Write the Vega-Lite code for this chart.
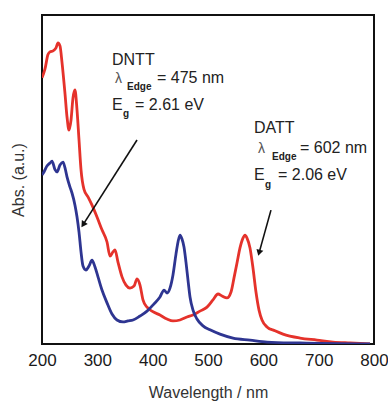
{
  "$schema": "https://vega.github.io/schema/vega-lite/v6.json",
  "width": 332,
  "height": 329,
  "autosize": "none",
  "padding": {"left": 42, "top": 15, "right": 14, "bottom": 57},
  "config": {
    "font": "Liberation Sans",
    "view": {"stroke": "#111111", "strokeWidth": 2}
  },
  "datasets": {
    "spectra": [
      {"compound": "DATT", "wl": 200, "abs": 0.809},
      {"compound": "DATT", "wl": 205.4, "abs": 0.836},
      {"compound": "DATT", "wl": 210.8, "abs": 0.880},
      {"compound": "DATT", "wl": 214.5, "abs": 0.888},
      {"compound": "DATT", "wl": 219.9, "abs": 0.891},
      {"compound": "DATT", "wl": 225.3, "abs": 0.900},
      {"compound": "DATT", "wl": 228.9, "abs": 0.915},
      {"compound": "DATT", "wl": 232.5, "abs": 0.906},
      {"compound": "DATT", "wl": 236.1, "abs": 0.857},
      {"compound": "DATT", "wl": 241.6, "abs": 0.760},
      {"compound": "DATT", "wl": 245.2, "abs": 0.690},
      {"compound": "DATT", "wl": 248.8, "abs": 0.650},
      {"compound": "DATT", "wl": 252.4, "abs": 0.680},
      {"compound": "DATT", "wl": 256.0, "abs": 0.748},
      {"compound": "DATT", "wl": 259.6, "abs": 0.772},
      {"compound": "DATT", "wl": 263.3, "abs": 0.711},
      {"compound": "DATT", "wl": 266.9, "abs": 0.620},
      {"compound": "DATT", "wl": 270.5, "abs": 0.530},
      {"compound": "DATT", "wl": 275.9, "abs": 0.470},
      {"compound": "DATT", "wl": 283.1, "abs": 0.447},
      {"compound": "DATT", "wl": 290.4, "abs": 0.422},
      {"compound": "DATT", "wl": 299.4, "abs": 0.386},
      {"compound": "DATT", "wl": 308.4, "abs": 0.347},
      {"compound": "DATT", "wl": 317.5, "abs": 0.310},
      {"compound": "DATT", "wl": 322.9, "abs": 0.267},
      {"compound": "DATT", "wl": 328.3, "abs": 0.280},
      {"compound": "DATT", "wl": 331.9, "abs": 0.286},
      {"compound": "DATT", "wl": 337.3, "abs": 0.249},
      {"compound": "DATT", "wl": 344.6, "abs": 0.204},
      {"compound": "DATT", "wl": 351.8, "abs": 0.179},
      {"compound": "DATT", "wl": 359.0, "abs": 0.170},
      {"compound": "DATT", "wl": 366.3, "abs": 0.176},
      {"compound": "DATT", "wl": 371.7, "abs": 0.198},
      {"compound": "DATT", "wl": 377.1, "abs": 0.179},
      {"compound": "DATT", "wl": 382.5, "abs": 0.134},
      {"compound": "DATT", "wl": 389.8, "abs": 0.112},
      {"compound": "DATT", "wl": 398.8, "abs": 0.100},
      {"compound": "DATT", "wl": 413.2, "abs": 0.088},
      {"compound": "DATT", "wl": 425.9, "abs": 0.076},
      {"compound": "DATT", "wl": 436.7, "abs": 0.070},
      {"compound": "DATT", "wl": 449.4, "abs": 0.073},
      {"compound": "DATT", "wl": 462.0, "abs": 0.082},
      {"compound": "DATT", "wl": 472.9, "abs": 0.088},
      {"compound": "DATT", "wl": 485.5, "abs": 0.100},
      {"compound": "DATT", "wl": 498.2, "abs": 0.112},
      {"compound": "DATT", "wl": 509.0, "abs": 0.134},
      {"compound": "DATT", "wl": 518.1, "abs": 0.152},
      {"compound": "DATT", "wl": 525.3, "abs": 0.146},
      {"compound": "DATT", "wl": 534.3, "abs": 0.140},
      {"compound": "DATT", "wl": 541.6, "abs": 0.158},
      {"compound": "DATT", "wl": 547.0, "abs": 0.201},
      {"compound": "DATT", "wl": 552.4, "abs": 0.246},
      {"compound": "DATT", "wl": 557.8, "abs": 0.292},
      {"compound": "DATT", "wl": 563.2, "abs": 0.322},
      {"compound": "DATT", "wl": 566.9, "abs": 0.331},
      {"compound": "DATT", "wl": 570.5, "abs": 0.322},
      {"compound": "DATT", "wl": 575.9, "abs": 0.292},
      {"compound": "DATT", "wl": 581.3, "abs": 0.231},
      {"compound": "DATT", "wl": 586.7, "abs": 0.158},
      {"compound": "DATT", "wl": 592.2, "abs": 0.103},
      {"compound": "DATT", "wl": 597.6, "abs": 0.073},
      {"compound": "DATT", "wl": 606.6, "abs": 0.052},
      {"compound": "DATT", "wl": 621.1, "abs": 0.040},
      {"compound": "DATT", "wl": 635.5, "abs": 0.030},
      {"compound": "DATT", "wl": 666.3, "abs": 0.018},
      {"compound": "DATT", "wl": 697.0, "abs": 0.012},
      {"compound": "DATT", "wl": 725.9, "abs": 0.006},
      {"compound": "DATT", "wl": 756.6, "abs": 0.003},
      {"compound": "DATT", "wl": 792.8, "abs": 0.000},
      {"compound": "DNTT", "wl": 200, "abs": 0.514},
      {"compound": "DNTT", "wl": 203.6, "abs": 0.523},
      {"compound": "DNTT", "wl": 209.0, "abs": 0.541},
      {"compound": "DNTT", "wl": 214.5, "abs": 0.550},
      {"compound": "DNTT", "wl": 218.1, "abs": 0.556},
      {"compound": "DNTT", "wl": 223.5, "abs": 0.530},
      {"compound": "DNTT", "wl": 227.1, "abs": 0.523},
      {"compound": "DNTT", "wl": 232.5, "abs": 0.544},
      {"compound": "DNTT", "wl": 238.0, "abs": 0.553},
      {"compound": "DNTT", "wl": 241.6, "abs": 0.535},
      {"compound": "DNTT", "wl": 245.2, "abs": 0.508},
      {"compound": "DNTT", "wl": 250.6, "abs": 0.477},
      {"compound": "DNTT", "wl": 254.2, "abs": 0.459},
      {"compound": "DNTT", "wl": 259.6, "abs": 0.422},
      {"compound": "DNTT", "wl": 263.3, "abs": 0.386},
      {"compound": "DNTT", "wl": 266.9, "abs": 0.340},
      {"compound": "DNTT", "wl": 270.5, "abs": 0.280},
      {"compound": "DNTT", "wl": 274.1, "abs": 0.237},
      {"compound": "DNTT", "wl": 279.5, "abs": 0.225},
      {"compound": "DNTT", "wl": 284.9, "abs": 0.237},
      {"compound": "DNTT", "wl": 290.4, "abs": 0.255},
      {"compound": "DNTT", "wl": 295.8, "abs": 0.234},
      {"compound": "DNTT", "wl": 301.2, "abs": 0.204},
      {"compound": "DNTT", "wl": 308.4, "abs": 0.164},
      {"compound": "DNTT", "wl": 317.5, "abs": 0.125},
      {"compound": "DNTT", "wl": 326.5, "abs": 0.091},
      {"compound": "DNTT", "wl": 335.5, "abs": 0.073},
      {"compound": "DNTT", "wl": 346.4, "abs": 0.067},
      {"compound": "DNTT", "wl": 355.4, "abs": 0.070},
      {"compound": "DNTT", "wl": 364.5, "abs": 0.073},
      {"compound": "DNTT", "wl": 377.1, "abs": 0.085},
      {"compound": "DNTT", "wl": 389.8, "abs": 0.100},
      {"compound": "DNTT", "wl": 402.4, "abs": 0.122},
      {"compound": "DNTT", "wl": 413.2, "abs": 0.143},
      {"compound": "DNTT", "wl": 420.5, "abs": 0.164},
      {"compound": "DNTT", "wl": 425.9, "abs": 0.155},
      {"compound": "DNTT", "wl": 431.3, "abs": 0.170},
      {"compound": "DNTT", "wl": 436.7, "abs": 0.210},
      {"compound": "DNTT", "wl": 442.2, "abs": 0.274},
      {"compound": "DNTT", "wl": 445.8, "abs": 0.310},
      {"compound": "DNTT", "wl": 449.4, "abs": 0.331},
      {"compound": "DNTT", "wl": 453.0, "abs": 0.319},
      {"compound": "DNTT", "wl": 456.6, "abs": 0.295},
      {"compound": "DNTT", "wl": 460.2, "abs": 0.249},
      {"compound": "DNTT", "wl": 463.8, "abs": 0.195},
      {"compound": "DNTT", "wl": 467.5, "abs": 0.143},
      {"compound": "DNTT", "wl": 472.9, "abs": 0.103},
      {"compound": "DNTT", "wl": 480.1, "abs": 0.076},
      {"compound": "DNTT", "wl": 491.0, "abs": 0.055},
      {"compound": "DNTT", "wl": 503.6, "abs": 0.043},
      {"compound": "DNTT", "wl": 521.7, "abs": 0.030},
      {"compound": "DNTT", "wl": 545.2, "abs": 0.018},
      {"compound": "DNTT", "wl": 575.9, "abs": 0.012},
      {"compound": "DNTT", "wl": 606.6, "abs": 0.006},
      {"compound": "DNTT", "wl": 666.3, "abs": 0.003},
      {"compound": "DNTT", "wl": 792.8, "abs": 0.000}
    ],
    "arrows": [
      {"compound": "DNTT", "wl": 371.7, "abs": 0.620, "wl2": 274.3, "abs2": 0.363, "angle": 213.4},
      {"compound": "DATT", "wl": 613.8, "abs": 0.407, "wl2": 592.3, "abs2": 0.277, "angle": 195.4}
    ],
    "mainText": [
      {"wl": 326.5, "abs": 0.848, "t": "DNTT"},
      {"wl": 407.8, "abs": 0.793, "t": "= 475 nm"},
      {"wl": 326.5, "abs": 0.711, "t": "E"},
      {"wl": 368.1, "abs": 0.711, "t": "= 2.61 eV"},
      {"wl": 583.1, "abs": 0.641, "t": "DATT"},
      {"wl": 666.3, "abs": 0.581, "t": "= 602 nm"},
      {"wl": 583.1, "abs": 0.498, "t": "E"},
      {"wl": 626.5, "abs": 0.498, "t": "= 2.06 eV"}
    ],
    "lambdaText": [
      {"wl": 331.9, "abs": 0.793, "t": "λ"},
      {"wl": 590.4, "abs": 0.581, "t": "λ"}
    ],
    "subText": [
      {"wl": 353.6, "abs": 0.772, "t": "Edge"},
      {"wl": 346.4, "abs": 0.690, "t": "g"},
      {"wl": 615.7, "abs": 0.559, "t": "Edge"},
      {"wl": 603.0, "abs": 0.474, "t": "g"}
    ]
  },
  "layer": [
    {
      "data": {"name": "spectra"},
      "mark": {"type": "line", "strokeWidth": 2.8, "clip": true, "interpolate": "monotone"},
      "encoding": {
        "x": {
          "field": "wl", "type": "quantitative",
          "scale": {"domain": [200, 800], "nice": false},
          "axis": {
            "values": [200, 300, 400, 500, 600, 700, 800],
            "title": "Wavelength / nm",
            "grid": false, "ticks": false, "domain": false,
            "labelFontSize": 17, "labelColor": "#1a1a1a", "labelPadding": 8,
            "labelFlush": false, "labelOverlap": false,
            "titleFontSize": 16, "titleFontWeight": "normal", "titleColor": "#333333",
            "titlePadding": 16
          }
        },
        "y": {
          "field": "abs", "type": "quantitative",
          "scale": {"domain": [0, 1], "nice": false},
          "axis": {
            "title": "Abs. (a.u.)", "labels": false, "ticks": false, "grid": false, "domain": false,
            "titleFontSize": 16, "titleFontWeight": "normal", "titleColor": "#333333",
            "titlePadding": 16
          }
        },
        "color": {
          "field": "compound", "type": "nominal",
          "scale": {"domain": ["DATT", "DNTT"], "range": ["#e5322b", "#2e3591"]},
          "legend": null
        }
      }
    },
    {
      "data": {"name": "arrows"},
      "mark": {"type": "rule", "color": "#111111", "strokeWidth": 1.6},
      "encoding": {
        "x": {"field": "wl", "type": "quantitative"},
        "y": {"field": "abs", "type": "quantitative"},
        "x2": {"field": "wl2"},
        "y2": {"field": "abs2"}
      }
    },
    {
      "data": {"name": "arrows"},
      "mark": {"type": "point", "shape": "triangle-up", "filled": true, "color": "#111111", "size": 50, "opacity": 1},
      "encoding": {
        "x": {"field": "wl2", "type": "quantitative"},
        "y": {"field": "abs2", "type": "quantitative"},
        "angle": {"field": "angle", "type": "quantitative", "scale": null}
      }
    },
    {
      "data": {"name": "mainText"},
      "mark": {"type": "text", "align": "left", "baseline": "alphabetic", "fontSize": 16, "color": "#222222"},
      "encoding": {
        "x": {"field": "wl", "type": "quantitative"},
        "y": {"field": "abs", "type": "quantitative"},
        "text": {"field": "t"}
      }
    },
    {
      "data": {"name": "lambdaText"},
      "mark": {"type": "text", "align": "left", "baseline": "alphabetic", "fontSize": 14, "color": "#555555"},
      "encoding": {
        "x": {"field": "wl", "type": "quantitative"},
        "y": {"field": "abs", "type": "quantitative"},
        "text": {"field": "t"}
      }
    },
    {
      "data": {"name": "subText"},
      "mark": {"type": "text", "align": "left", "baseline": "alphabetic", "fontSize": 10, "fontWeight": "bold", "color": "#222222"},
      "encoding": {
        "x": {"field": "wl", "type": "quantitative"},
        "y": {"field": "abs", "type": "quantitative"},
        "text": {"field": "t"}
      }
    }
  ]
}
